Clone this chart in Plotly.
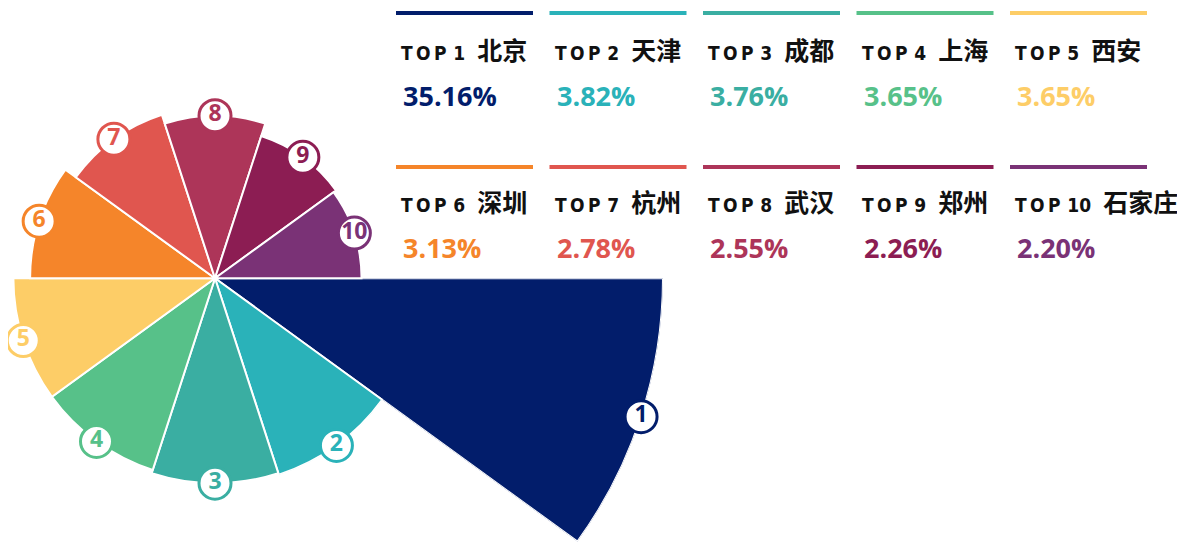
import math
import plotly.graph_objects as go

# ---- data ----
ranks = ["1", "2", "3", "4", "5", "6", "7", "8", "9", "10"]
cities = ["北京", "天津", "成都", "上海", "西安", "深圳", "杭州", "武汉", "郑州", "石家庄"]
shares = [35.16, 3.82, 3.76, 3.65, 3.65, 3.13, 2.78, 2.55, 2.26, 2.20]
colors = ["#021D6B", "#2AB2B9", "#3AAEA2", "#57C189", "#FDCD67",
          "#F5852A", "#E0564F", "#AD3559", "#8C1D53", "#7A3276"]

# ---- geometry ----
WIN_W, WIN_H = 1185, 543
OFF = 8                                  # default page body margin
W, H = WIN_W - OFF, WIN_H - OFF          # figure size
n = len(cities)
step = 360 / n
theta = [step * i + step / 2 for i in range(n)]   # clockwise from east, by rank

cx, cy = 215 - OFF, 278.3 - OFF          # pie centre in figure pixels
R_A = 448                                # outer radius of the largest sector (px)
R_B = cx                                 # half-size of the small-sector subplot (px)
top_log = math.log10(max(shares))
small_top_log = math.log10(max(shares[1:]) * 1.004)   # radial max of the small-sector subplot
px_per_decade = (R_A - R_B) / (top_log - small_top_log)
r0_log = top_log - R_A / px_per_decade
sinA = math.sin(math.radians(step))


def px(x):
    return (x - OFF) / W


def py(y):
    return 1 - (y - OFF) / H


def label_trace(sl, sub):
    return go.Scatterpolar(
        r=shares[sl], theta=theta[sl], mode="markers+text", text=ranks[sl],
        textposition="middle center", cliponaxis=False, subplot=sub,
        marker=dict(size=32, color="white", line=dict(color=colors[sl], width=3)),
        textfont=dict(color=colors[sl], size=23, family="Open Sans", weight=700),
        hoverinfo="skip", showlegend=False)


def bar_trace(sl, sub):
    return go.Barpolar(
        r=shares[sl], theta=theta[sl], width=[step] * len(shares[sl]),
        marker=dict(color=colors[sl], line=dict(color="white", width=2)),
        subplot=sub, hoverinfo="skip", showlegend=False)


fig = go.Figure()
big, small = slice(0, 1), slice(1, n)
fig.add_trace(bar_trace(big, "polar"))
fig.add_trace(bar_trace(small, "polar2"))
fig.add_trace(label_trace(big, "polar"))
fig.add_trace(label_trace(small, "polar2"))

# ---- legend block ----
shapes, annotations = [], []
col_x0, col_step, line_len = 396, 153.5, 137
rows = [dict(line=13, title=48.5, pct=96), dict(line=167, title=201, pct=247)]
for i, (rk, city, val, col) in enumerate(zip(ranks, cities, shares, colors)):
    row, c = rows[i // 5], i % 5
    x0 = col_x0 + c * col_step
    shapes.append(dict(type="line", xref="paper", yref="paper",
                       x0=px(x0), x1=px(x0 + line_len),
                       y0=py(row["line"]), y1=py(row["line"]),
                       line=dict(color=col, width=4)))
    title = ("T\u2009O\u2009P\u2009\u2009" + rk + "\u2002\u2009"
             + f"<span style='font-family:Noto Sans CJK SC;font-size:25px'>{city}</span>")
    annotations.append(dict(xref="paper", yref="paper", x=px(x0 + 3), y=py(row["title"]),
                            xanchor="left", yanchor="middle", showarrow=False,
                            text=title,
                            font=dict(family="Liberation Sans Narrow, DejaVu Sans Condensed, DejaVu Sans",
                                      size=19, color="#111111", weight=700)))
    annotations.append(dict(xref="paper", yref="paper", x=px(x0 + 5), y=py(row["pct"]),
                            xanchor="left", yanchor="middle", showarrow=False,
                            text=f"{val:.2f}%",
                            font=dict(family="Open Sans", size=27, color=col, weight=700)))

fig.update_layout(
    width=W, height=H,
    margin=dict(l=0, r=0, t=0, b=0),
    paper_bgcolor="white", plot_bgcolor="white",
    showlegend=False,
    shapes=shapes, annotations=annotations,
    polar=dict(
        domain=dict(x=[cx / W, (cx + R_A) / W],
                    y=[1 - (cy + R_A * sinA) / H, 1 - cy / H]),
        sector=[-step, 0],
        bgcolor="rgba(0,0,0,0)", bargap=0,
        radialaxis=dict(type="log", range=[r0_log, top_log], visible=False),
        angularaxis=dict(direction="clockwise", rotation=0, visible=False),
    ),
    polar2=dict(
        domain=dict(x=[(cx - R_B) / W, (cx + R_B) / W],
                    y=[1 - (cy + R_B) / H, 1 - (cy - R_B) / H]),
        bgcolor="rgba(0,0,0,0)", bargap=0,
        radialaxis=dict(type="log", range=[r0_log, small_top_log], visible=False),
        angularaxis=dict(direction="clockwise", rotation=0, visible=False),
    ),
)

fig.write_html("out.html")
